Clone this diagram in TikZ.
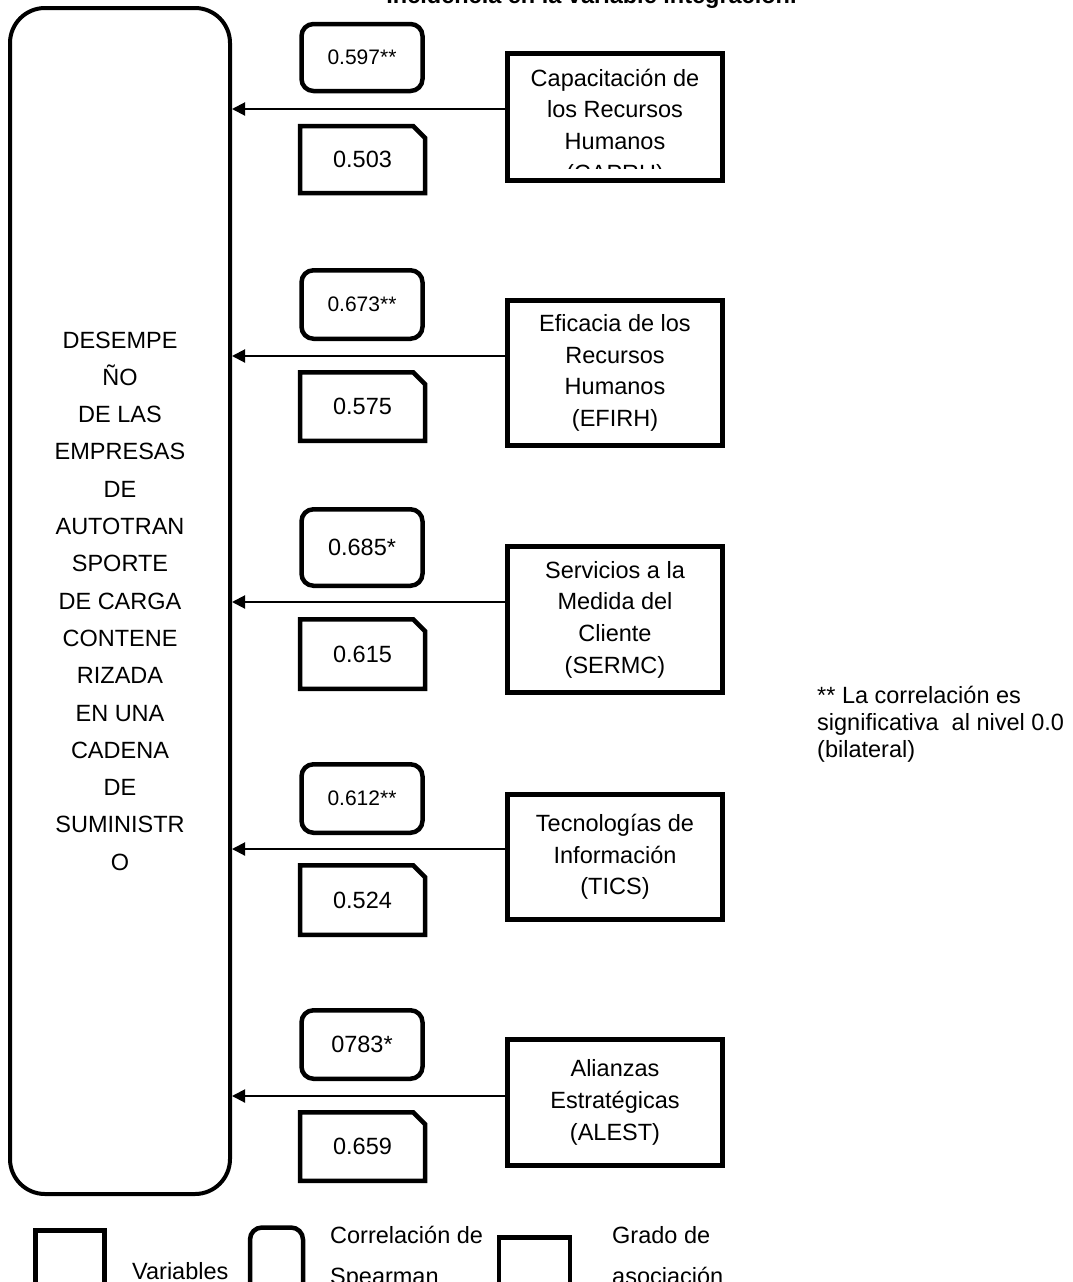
\documentclass[tikz,border=0pt]{standalone}
\usepackage{fontspec}
\setmainfont{Liberation Sans}
\usetikzlibrary{arrows.meta,shapes.misc,positioning}

\begin{document}
\begin{tikzpicture}[
    x = 1pt,
    y = -1pt,
    varbox/.style = {
        rectangle,
        draw = black,
        line width = 5pt,
        minimum width = 215pt,
        align = center,
        inner sep = 0pt,
        font = \fontsize{23.5}{31.7}\selectfont
    },
    spearman/.style = {
        rectangle,
        rounded corners = 12pt,
        draw = black,
        line width = 4.5pt,
        minimum width = 121pt,
        inner sep = 0pt,
        font = \fontsize{23.5}{28}\selectfont
    },
    grado/.style = {
        chamfered rectangle,
        chamfered rectangle corners = north east,
        chamfered rectangle xsep = 12pt,
        draw = black,
        line width = 4.5pt,
        minimum width = 125pt,
        inner sep = 0pt,
        font = \fontsize{23.5}{28}\selectfont
    },
    arrow/.style = {
        <-,
        >={Triangle[length=13pt, width=13pt]},
        line width = 2pt
    },
    legendtext/.style = {
        align = left,
        inner sep = 0pt,
        font = \fontsize{23.5}{41}\selectfont
    }
]
    \useasboundingbox (0,0) rectangle (1073,1282);

    % Title (cut at the top of the page)
    \node [font = \bfseries\fontsize{23.5}{28}\selectfont, anchor = base, inner sep = 0pt] (title) at (591.5,4) {Incidencia en la variable integración.};

    % Dependent variable
    \node [draw = black, line width = 4pt, rounded corners = 35pt, minimum width = 220pt, minimum height = 1186pt,
           align = center, inner sep = 0pt, font = \fontsize{23.5}{37.3}\selectfont] (desempeno) at (120,601)
        {DESEMPE\\ÑO\\DE LAS\\EMPRESAS\\DE\\AUTOTRAN\\SPORTE\\DE CARGA\\CONTENE\\RIZADA\\EN UNA\\CADENA\\DE\\SUMINISTR\\O};

    % Independent variables
    \begin{scope}
        \clip (510,56) rectangle (720,168);
        \node [align = center, inner sep = 0pt, font = \fontsize{23.5}{31.7}\selectfont] (caprhtext) at (615,127.5)
            {Capacitación de\\los Recursos\\Humanos\\(CAPRH)};
    \end{scope}
    \node [varbox, minimum height = 127pt] (v1) at (615,117) {};
    \node [varbox, minimum height = 145pt] (v2) at (615,373) {Eficacia de los\\Recursos\\Humanos\\(EFIRH)};
    \node [varbox, minimum height = 146pt] (v3) at (615,619.5) {Servicios a la\\Medida del\\Cliente\\(SERMC)};
    \node [varbox, minimum height = 125pt] (v4) at (615,857) {Tecnologías de\\Información\\(TICS)};
    \node [varbox, minimum height = 126pt] (v5) at (615,1102.5) {Alianzas\\Estratégicas\\(ALEST)};

    % Spearman correlation
    \node [spearman, minimum height = 67pt, font = \fontsize{21}{25}\selectfont] (s1) at (362,57.5) {0.597**};
    \node [spearman, minimum height = 68.5pt, font = \fontsize{21}{25}\selectfont] (s2) at (362,304.5) {0.673**};
    \node [spearman, minimum height = 76.5pt] (s3) at (362,547.5) {0.685*};
    \node [spearman, minimum height = 68.5pt, font = \fontsize{21}{25}\selectfont] (s4) at (362,798.5) {0.612**};
    \node [spearman, minimum height = 68.5pt] (s5) at (362,1044.5) {0783*};

    % Degree of association
    \node [grado, minimum height = 67pt] (g1) at (362.5,159.5) {0.503};
    \node [grado, minimum height = 68.5pt] (g2) at (362.5,406.5) {0.575};
    \node [grado, minimum height = 69.5pt] (g3) at (362.5,654) {0.615};
    \node [grado, minimum height = 69.5pt] (g4) at (362.5,900) {0.524};
    \node [grado, minimum height = 68.5pt] (g5) at (362.5,1146.5) {0.659};

    % Arrow heights
    \coordinate (r1) at (0,109);
    \coordinate (r2) at (0,356);
    \coordinate (r3) at (0,602);
    \coordinate (r4) at (0,849);
    \coordinate (r5) at (0,1096);

    % Connections
    \draw [arrow] (desempeno.east |- r1) -- (v1.west |- r1);
    \draw [arrow] (desempeno.east |- r2) -- (v2.west |- r2);
    \draw [arrow] (desempeno.east |- r3) -- (v3.west |- r3);
    \draw [arrow] (desempeno.east |- r4) -- (v4.west |- r4);
    \draw [arrow] (desempeno.east |- r5) -- (v5.west |- r5);

    % Note
    \node [legendtext, anchor = west, font = \fontsize{23.5}{27}\selectfont] (nota) at (817,724)
        {** La correlación es\\significativa\ \ al nivel 0.0\\(bilateral)};

    % Legend (cut at the bottom of the page)
    \node [draw = black, line width = 5pt, minimum width = 69pt, minimum height = 80pt] (lvar) at (70,1270.5) {};
    \node [legendtext, anchor = base west] (lvartext) at (132,1279) {Variables};
    \node [spearman, minimum width = 53pt, minimum height = 80pt] (lspear) at (276.5,1267.5) {};
    \node [legendtext, anchor = north west] (lspeartext) at (330,1226) {Correlación de\\Spearman};
    \node [grado, minimum width = 71pt, minimum height = 80pt] (lgrado) at (534.5,1277.5) {};
    \node [legendtext, anchor = north west] (lgradotext) at (612,1226) {Grado de\\asociación};

\end{tikzpicture}
\end{document}
